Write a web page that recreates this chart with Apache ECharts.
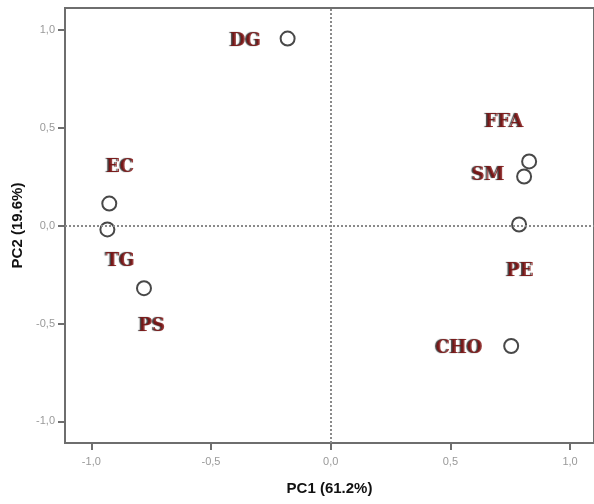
<!DOCTYPE html>
<html><head><meta charset="utf-8">
<script src="https://cdn.jsdelivr.net/npm/echarts@6/dist/echarts.min.js"></script>
<style>html,body{margin:0;padding:0;background:#fff}#c{width:594px;height:504px}</style>
</head><body><div id="c"></div>
<script>
const names = ['DG','EC','TG','PS','FFA','SM','PE','CHO'];
const pc1 = [-0.18,-0.925,-0.933,-0.78,0.829,0.808,0.787,0.754];
const pc2 = [0.954,0.112,-0.02,-0.32,0.327,0.25,0.005,-0.615];
const tickValues = [-1.0,-0.5,0.0,0.5,1.0];
const xTitle = 'PC1 (61.2%)';
const yTitle = 'PC2 (19.6%)';
// label placement relative to each point (pixels)
const labelOffsets = {DG:[-42,3],EC:[11,-36],TG:[13,32],PS:[8,38],FFA:[-25,-39],SM:[-36,-1],PE:[1,47],CHO:[-52,2]};

const fmt = v => v.toFixed(1).replace('.', ',');
const data = names.map((n,i)=>({
  value:[pc1[i],pc2[i]], name:n,
  label:{offset:labelOffsets[n]}
}));

const chart = echarts.init(document.getElementById('c'));
chart.setOption({
  animation:false,
  grid:{left:65,top:8,width:530,height:435,show:true,borderColor:'#6e6e6e',borderWidth:2,containLabel:false},
  xAxis:{type:'value',min:-1.11,max:1.1,
    name:xTitle,nameLocation:'middle',nameGap:38,
    nameTextStyle:{fontFamily:'Liberation Sans',fontWeight:'bold',fontSize:15,color:'#111'},
    axisLine:{show:true,onZero:false,lineStyle:{color:'#6e6e6e',width:2}},
    axisTick:{show:true,length:7,customValues:tickValues,lineStyle:{color:'#6e6e6e',width:2}},
    axisLabel:{customValues:tickValues,formatter:fmt,color:'#999',fontFamily:'Liberation Sans',fontSize:11,margin:13},
    splitLine:{show:false}},
  yAxis:{type:'value',min:-1.11,max:1.11,
    name:yTitle,nameLocation:'middle',nameGap:38,nameRotate:90,
    nameTextStyle:{fontFamily:'Liberation Sans',fontWeight:'bold',fontSize:15,color:'#111'},
    axisLine:{show:true,onZero:false,lineStyle:{color:'#6e6e6e',width:2}},
    axisTick:{show:true,length:7,customValues:tickValues,lineStyle:{color:'#6e6e6e',width:2}},
    axisLabel:{customValues:tickValues,formatter:fmt,color:'#999',fontFamily:'Liberation Sans',fontSize:11,margin:10},
    splitLine:{show:false}},
  series:[{
    type:'scatter',
    symbol:'circle',symbolSize:14,
    itemStyle:{color:'#fff',borderColor:'#1a1a1a',borderWidth:2},
    label:{show:true,position:'inside',formatter:p=>p.name,
      fontFamily:'DejaVu Serif',fontWeight:'bold',fontSize:18,color:'#800c0c',
      textShadowColor:'#111',textShadowOffsetX:-1.5,textShadowOffsetY:0,textShadowBlur:1},
    data:data,
    markLine:{silent:true,symbol:'none',label:{show:false},
      lineStyle:{color:'#8a8a8a',type:[2,2],width:2},
      data:[{xAxis:0},{yAxis:0}]}
  }]
});
</script></body></html>
